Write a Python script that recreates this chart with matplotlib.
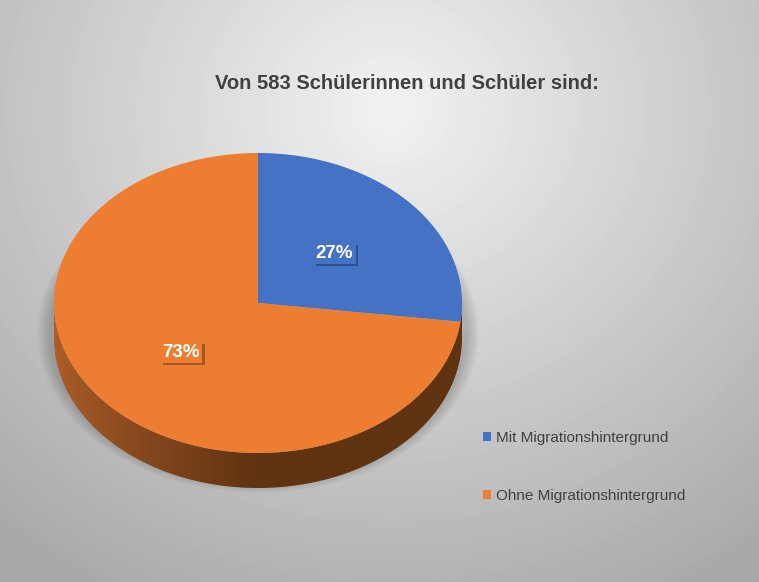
import matplotlib.pyplot as plt
import numpy as np
from matplotlib.patches import Ellipse, PathPatch
from matplotlib.path import Path
import matplotlib.patheffects as pe

# data
labels = ["Mit Migrationshintergrund", "Ohne Migrationshintergrund"]
shares = [27, 73]
colors = ["#4472C4", "#ED7D31"]
title = "Von 583 Schülerinnen und Schüler sind:"

plt.rcParams['font.family'] = ['Liberation Sans', 'DejaVu Sans']

W, H = 759, 582
fig = plt.figure(figsize=(W / 100, H / 100), dpi=100)
ax = fig.add_axes([0, 0, 1, 1])

# pie geometry in pixels -> axis units (1 unit = rx px horizontally, ry px vertically)
cx, cy, rx, ry = 258, 279, 204, 150
depth = 35 / ry
xlim = (-cx / rx, (W - cx) / rx)
ylim = (-cy / ry, (H - cy) / ry)

# background radial gradient (row 0 = top of figure)
gx, gy = np.meshgrid(np.arange(W), np.arange(H))
d = np.sqrt(((gx - 390) / 480) ** 2 + ((gy - 110) / 440) ** 2)
shade = 0.95 - 0.23 * np.clip(d, 0, 1.25)
ax.imshow(shade, cmap='gray', vmin=0, vmax=1, extent=(*xlim, *ylim),
          origin='upper', aspect='auto', zorder=0, interpolation='bilinear')

# soft shadow around the lower pie body
for k in range(6):
    grow = 1.0 + 0.011 * (k + 1)
    ax.add_patch(Ellipse((0, -depth * 0.85), 2 * grow + 0.03, 2 * grow,
                         facecolor='black', edgecolor='none', alpha=0.03, zorder=1))

# side of the cylinder (lower half), filled with a horizontal gradient
t = np.linspace(np.pi, 2 * np.pi, 200)
upper = np.column_stack([np.cos(t), np.sin(t)])
lower = np.column_stack([np.cos(t[::-1]), np.sin(t[::-1]) - depth])
side = Path(np.vstack([upper, lower, upper[:1]]), closed=True)
side_patch = PathPatch(side, facecolor='none', edgecolor='none')
ax.add_patch(side_patch)
xs = np.linspace(-1, 1, 300)
light = np.array([0.68, 0.37, 0.16])
dark = np.array([0.38, 0.20, 0.07])
w = np.clip((xs + 1) / 1.0, 0, 1) ** 0.8
grad = light[None, :] * (1 - w[:, None]) + dark[None, :] * w[:, None]
grad = np.tile(grad[None, :, :], (2, 1, 1))
img = ax.imshow(grad, extent=(-1, 1, -1 - depth, 0), aspect='auto', zorder=2,
                interpolation='bilinear')
img.set_clip_path(side_patch)

# top of the pie
wedges, texts, autotexts = ax.pie(shares, colors=colors, startangle=90, counterclock=False,
                                  radius=1, center=(0, 0), frame=True,
                                  autopct='%1.0f%%', pctdistance=0.5,
                                  wedgeprops=dict(linewidth=0, zorder=3))
for wdg in wedges:
    wdg.set_zorder(3)
for at, c in zip(autotexts, colors):
    at.set_color('white')
    at.set_fontsize(13.5)
    at.set_fontweight('bold')
    at.set_zorder(5)
    at.set_bbox(dict(boxstyle='square,pad=0.12', facecolor=c, edgecolor='none'))
    at.get_bbox_patch().set_path_effects(
        [pe.SimplePatchShadow(offset=(1.5, -1.5), shadow_rgbFace='black', alpha=0.3), pe.Normal()])

ax.set_aspect('auto')
ax.set_xlim(*xlim)
ax.set_ylim(*ylim)
ax.axis('off')

fig.text(407 / W, 1 - 84 / H, title, ha='center', va='center', fontsize=14.5,
         fontweight='bold', color='#404040')

fig.legend(wedges, labels, loc='center left', bbox_to_anchor=(469 / W, 1 - 467 / H),
           frameon=False, fontsize=11, labelcolor='#404040', handlelength=0.55,
           handleheight=0.55, handletextpad=0.35, labelspacing=2.85)

fig.savefig('out.png', dpi=100)
